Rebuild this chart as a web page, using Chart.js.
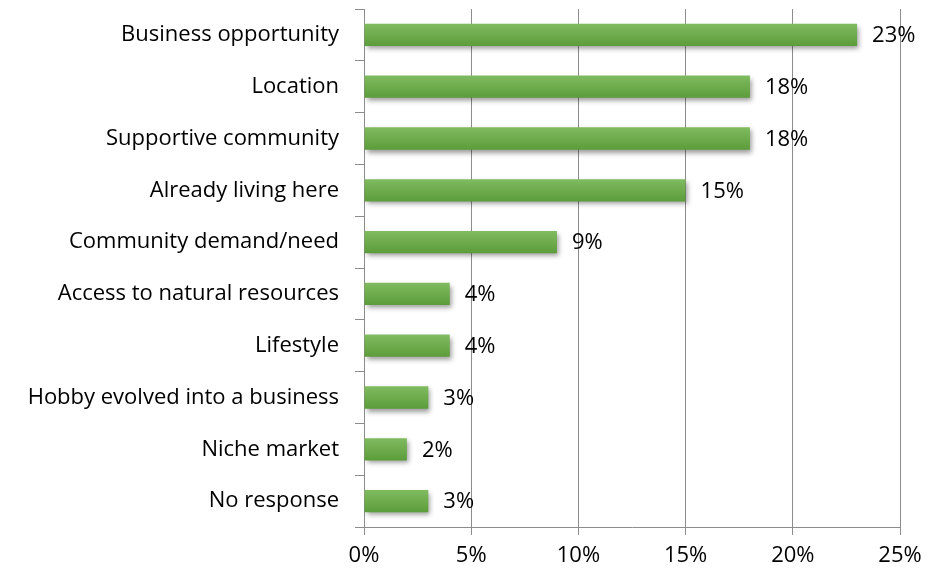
<!DOCTYPE html>
<html>
<head>
    <title>Reasons for starting a business</title>
    <script src="https://cdn.jsdelivr.net/npm/chart.js"></script>
    <style>
        html, body {
            margin: 0;
            padding: 0;
            background: #ffffff;
        }
        .chart-container {
            width: 928px;
            height: 577px;
        }
    </style>
</head>
<body>
    <div class="chart-container">
        <canvas id="reasons"></canvas>
    </div>

    <script>
        const reasons = [
            'Business opportunity',
            'Location',
            'Supportive community',
            'Already living here',
            'Community demand/need',
            'Access to natural resources',
            'Lifestyle',
            'Hobby evolved into a business',
            'Niche market',
            'No response'
        ];
        const shares = [23, 18, 18, 15, 9, 4, 4, 3, 2, 3];
        const axisTicks = [0, 5, 10, 15, 20, 25];

        const FONT = '"Open Sans", sans-serif';
        const FONT_SIZE = 22;
        const BAR_PCT = 0.43;

        // vertical green gradient for each bar, lighter on top
        function barGradient(context) {
            const chart = context.chart;
            const yScale = chart.scales.y;
            if (!chart.chartArea || !yScale) return '#6aa84a';
            const yc = yScale.getPixelForValue(context.dataIndex);
            const half = (yScale.height / reasons.length) * BAR_PCT / 2;
            const g = chart.ctx.createLinearGradient(0, yc - half, 0, yc + half);
            g.addColorStop(0, '#80bb60');
            g.addColorStop(1, '#5c9c3a');
            return g;
        }

        // soft drop shadow under the bars
        const barShadow = {
            id: 'barShadow',
            beforeDatasetDraw(chart) {
                const ctx = chart.ctx;
                ctx.save();
                ctx.shadowColor = 'rgba(0, 0, 0, 0.4)';
                ctx.shadowBlur = 5;
                ctx.shadowOffsetX = 2;
                ctx.shadowOffsetY = 3;
            },
            afterDatasetDraw(chart) {
                chart.ctx.restore();
            }
        };

        // percentage printed to the right of each bar
        const valueLabels = {
            id: 'valueLabels',
            afterDatasetsDraw(chart) {
                const ctx = chart.ctx;
                const meta = chart.getDatasetMeta(0);
                ctx.save();
                ctx.font = FONT_SIZE + 'px ' + FONT;
                ctx.fillStyle = '#000000';
                ctx.textBaseline = 'middle';
                ctx.textAlign = 'left';
                meta.data.forEach((bar, i) => {
                    ctx.fillText(shares[i] + '%', bar.x + 15, bar.y + 1);
                });
                ctx.restore();
            }
        };

        const ctx = document.getElementById('reasons').getContext('2d');
        const chart = new Chart(ctx, {
            type: 'bar',
            data: {
                labels: reasons,
                datasets: [{
                    data: shares,
                    backgroundColor: barGradient,
                    borderWidth: 0,
                    barPercentage: BAR_PCT,
                    categoryPercentage: 1
                }]
            },
            options: {
                indexAxis: 'y',
                responsive: true,
                maintainAspectRatio: false,
                animation: false,
                layout: {
                    padding: { top: 9, right: 28, left: 0, bottom: 0 }
                },
                scales: {
                    x: {
                        min: 0,
                        max: 25,
                        afterBuildTicks: axis => {
                            axis.ticks = axisTicks.map(v => ({ value: v }));
                        },
                        afterFit: axis => {
                            axis.height = 50;
                            axis.paddingLeft = 0;
                            axis.paddingRight = 0;
                        },
                        grid: {
                            color: '#8c8c8c',
                            lineWidth: 1,
                            tickLength: 8
                        },
                        border: { color: '#8c8c8c' },
                        ticks: {
                            callback: v => v + '%',
                            color: '#000000',
                            font: { family: FONT, size: FONT_SIZE },
                            padding: 8,
                            maxRotation: 0
                        }
                    },
                    y: {
                        afterFit: axis => {
                            axis.width = 364;
                            axis.paddingTop = 0;
                            axis.paddingBottom = 0;
                        },
                        grid: {
                            drawOnChartArea: false,
                            color: '#8c8c8c',
                            tickLength: 9
                        },
                        border: { color: '#8c8c8c' },
                        ticks: {
                            color: '#000000',
                            font: { family: FONT, size: FONT_SIZE },
                            padding: 16
                        }
                    }
                },
                plugins: {
                    legend: { display: false },
                    tooltip: { enabled: false }
                }
            },
            plugins: [barShadow, valueLabels]
        });
    </script>
</body>
</html>
